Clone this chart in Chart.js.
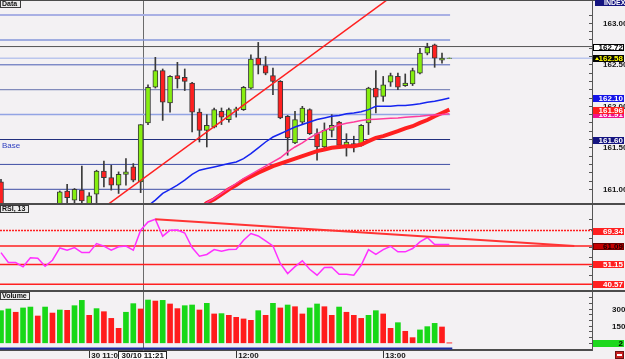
<!DOCTYPE html>
<html>
<head>
<meta charset="utf-8">
<script src="https://cdn.jsdelivr.net/npm/chart.js@4/dist/chart.umd.min.js"></script>
<style>
  html, body { margin: 0; padding: 0; background: #f3f1f3; }
  #wrap { position: relative; width: 625px; height: 359px; overflow: hidden; }
  #wrap canvas { position: absolute; left: 0; display: block; }
</style>
</head>
<body>
<div id="wrap">
  <canvas id="c-price" width="625" height="204" style="top:0"></canvas>
  <canvas id="c-rsi" width="625" height="87" style="top:204px"></canvas>
  <canvas id="c-vol" width="625" height="68" style="top:291px"></canvas>
</div>
<script>
/**
 * 3-minute bars, 30/10 — price / RSI(13) / volume panels
 */

// ---- data ----
const openPx = [161.09, 160.58, 160.66, 160.60, 160.70, 160.75, 160.64, 160.74, 160.76, 160.98,
  160.87, 160.99, 160.82, 160.94, 161.22, 161.14, 161.05, 161.18, 161.27, 161.09,
  161.80, 162.23, 162.43, 162.04, 162.37, 162.35, 162.28, 161.93, 161.71, 161.75,
  161.94, 161.84, 161.95, 161.96, 162.22, 162.58, 162.49, 162.37, 162.30, 161.88,
  161.56, 161.81, 161.96, 161.67, 161.51, 161.71, 161.81, 161.53, 161.55, 161.53,
  161.80, 162.22, 162.12, 162.29, 162.36, 162.25, 162.27, 162.40, 162.64, 162.74,
  162.555, 162.578];
const highPx = [161.12, 160.72, 160.74, 160.76, 160.78, 160.79, 160.78, 160.79, 160.98, 161.06,
  161.01, 161.28, 160.96, 161.23, 161.34, 161.29, 161.21, 161.37, 161.31, 161.78,
  162.26, 162.59, 162.45, 162.37, 162.53, 162.45, 162.29, 161.97, 161.90, 161.98,
  161.98, 161.98, 161.99, 162.24, 162.62, 162.77, 162.60, 162.46, 162.31, 161.89,
  161.94, 162.00, 161.97, 161.73, 161.80, 161.90, 161.82, 161.67, 161.64, 161.78,
  162.23, 162.43, 162.36, 162.40, 162.40, 162.39, 162.46, 162.70, 162.76, 162.75,
  162.64, 162.582];
const lowPx = [160.50, 160.50, 160.55, 160.56, 160.62, 160.60, 160.60, 160.66, 160.70, 160.83,
  160.82, 160.82, 160.78, 160.83, 161.03, 160.99, 160.95, 161.05, 161.09, 160.96,
  161.78, 162.22, 161.83, 161.93, 162.22, 162.19, 161.69, 161.57, 161.51, 161.74,
  161.78, 161.81, 161.87, 161.95, 162.21, 162.39, 162.38, 162.14, 161.85, 161.41,
  161.55, 161.78, 161.66, 161.35, 161.50, 161.63, 161.52, 161.40, 161.45, 161.52,
  161.66, 161.92, 162.06, 162.24, 162.20, 162.24, 162.25, 162.39, 162.62, 162.47,
  162.52, 162.578];
const closePx = [160.60, 160.66, 160.60, 160.70, 160.75, 160.64, 160.74, 160.70, 160.97, 160.90,
  161.00, 160.86, 160.92, 161.22, 161.14, 161.05, 161.18, 161.21, 161.11, 161.78,
  162.23, 162.43, 162.05, 162.36, 162.33, 162.30, 161.93, 161.71, 161.77, 161.96,
  161.87, 161.96, 161.97, 162.23, 162.57, 162.50, 162.40, 162.30, 161.86, 161.62,
  161.84, 161.98, 161.67, 161.51, 161.71, 161.77, 161.53, 161.57, 161.51, 161.77,
  162.22, 162.11, 162.26, 162.37, 162.23, 162.28, 162.43, 162.64, 162.71, 162.58,
  162.58, 162.582];

const maBlue = [null, null, null, null, null, null, null, null, null, null,
  null, null, null, null, null, null, null, null, 160.62, 160.70,
  160.80, 160.87, 160.95, 161.00, 161.05, 161.11, 161.18, 161.23, 161.25, 161.27,
  161.29, 161.31, 161.33, 161.37, 161.43, 161.50, 161.57, 161.63, 161.67, 161.71,
  161.75, 161.78, 161.81, 161.84, 161.86, 161.88, 161.89, 161.91, 161.92, 161.935,
  161.96, 162.00, 162.00, 162.00, 162.01, 162.01, 162.02, 162.03, 162.05, 162.06,
  162.08, 162.10];
const maRed = [null, null, null, null, null, null, null, null, null, null,
  null, null, null, null, null, null, null, null, null, null,
  null, null, null, null, null, null, 160.68, 160.76, 160.835, 160.88,
  160.94, 161.00, 161.05, 161.11, 161.155, 161.20, 161.24, 161.28, 161.31, 161.34,
  161.37, 161.40, 161.43, 161.46, 161.48, 161.50, 161.51, 161.52, 161.52, 161.54,
  161.58, 161.62, 161.64, 161.67, 161.70, 161.735, 161.76, 161.80, 161.835, 161.88,
  161.92, 161.96];
const maPink = [null, null, null, null, null, null, null, null, null, null,
  null, null, null, null, null, null, null, null, null, null,
  null, null, null, null, null, null, 160.69, 160.77, 160.84, 160.89,
  160.95, 161.01, 161.07, 161.13, 161.18, 161.23, 161.28, 161.33, 161.38, 161.45,
  161.51, 161.56, 161.62, 161.67, 161.71, 161.745, 161.775, 161.795, 161.81, 161.83,
  161.84, 161.845, 161.85, 161.855, 161.86, 161.867, 161.875, 161.88, 161.89, 161.895,
  161.90, 161.91];

const rsiValues = [57.5, 52.2, 52.2, 49.9, 54.7, 54.5, 50.2, 53.4, 60.0, 58.8,
  60.2, 57.5, 57.5, 62.3, 61.0, 58.8, 60.6, 61.0, 58.8, 69.5,
  73.9, 75.4, 66.3, 69.5, 69.6, 68.0, 60.2, 55.6, 56.5, 59.1,
  58.2, 59.1, 59.3, 64.1, 67.7, 66.4, 63.8, 61.1, 51.7, 46.3,
  50.0, 53.1, 48.6, 45.4, 49.5, 49.7, 45.9, 45.9, 45.4, 50.7,
  59.1, 56.5, 59.1, 60.9, 57.9, 57.9, 59.7, 63.2, 65.6, 61.8,
  61.8, 61.8];

const volumeValues = [288, 303, 274, 312, 320, 241, 320, 267, 294, 291,
  332, 379, 247, 306, 279, 220, 132, 274, 350, 303,
  382, 373, 379, 347, 306, 332, 338, 294, 353, 259,
  262, 247, 229, 215, 203, 288, 247, 353, 312, 338,
  323, 259, 312, 347, 323, 247, 320, 274, 247, 220,
  247, 288, 259, 132, 182, 106, 50, 118, 147, 176,
  144, 2];
const volumeUp = [1, 1, 0, 1, 1, 0, 1, 0, 1, 0,
  1, 1, 0, 1, 0, 0, 0, 1, 1, 0,
  1, 0, 1, 0, 0, 1, 1, 0, 1, 0,
  1, 0, 0, 0, 0, 1, 0, 1, 0, 1,
  0, 0, 1, 1, 0, 0, 1, 0, 0, 0,
  1, 1, 0, 0, 1, 0, 0, 1, 1, 1,
  0, 0];

const priceLevels = [163.10, 162.80, 162.50, 162.20, 161.90, 161.60, 161.30, 161.00];
const dayHigh = 162.72;
const lastPrice = 162.58;
const basePrice = 161.60;
const priceTrend = [[13, 160.717], [54, 163.378]];

const rsiLevels = [69.34, 61.09, 51.15, 40.57];
const rsiTrend = [[21, 75.4], [78, 61.1]];
const volumeFloor = -45;

const priceTickLabels = [161, 161.5, 162, 162.5, 163];
const rsiTickLabels = [80];
const volTickLabels = [150, 300];
const timeTickIdx = [12, 32, 52];
const timeTickLabels = ['30 11:00', '12:00', '13:00'];
const cursorIdx = 19.28;
const cursorLabel = '30/10 11:21';

// ---- layout / style ----
const X_MIN = -0.136, X_MAX = 80.408;
const LEVEL_END = 61.1;
const AXIS_W = 33;
const FONT = "'Liberation Sans Narrow', 'Liberation Sans', Arial, sans-serif";
const tickFont = { family: FONT, size: 8, weight: 'bold' };
const UP = '#86ee10', DOWN = '#ff2020', EDGE = '#3a3a3a';
const levelColors = ['#a9b0e4', '#8596da', '#4a5cb4', '#6472ac', '#92a4e4', '#22307e', '#3e4ea4', '#3e4ea4'];
const levelWidths = [2, 1.5, 1, 1, 1.5, 1, 1, 1];

const idx = openPx.map((_, i) => i);

function hline(y, x0, x1, color, width, extra) {
  return Object.assign({
    type: 'line', data: [{ x: x0, y }, { x: x1, y }],
    borderColor: color, borderWidth: width, pointRadius: 0, order: 6
  }, extra || {});
}

function series(values, color, width, order) {
  return {
    type: 'line', data: values.map((v, i) => ({ x: i, y: v })),
    borderColor: color, borderWidth: width, pointRadius: 0, tension: 0, order
  };
}

function yAxis(min, max, step, labels, pad, fmt) {
  return {
    type: 'linear', position: 'right', min, max,
    afterFit: s => { s.width = AXIS_W; s.paddingTop = 0; s.paddingBottom = 0; },
    grid: { drawOnChartArea: false, drawTicks: true, tickLength: -3, color: '#555' },
    border: { display: true, color: '#555', width: 1 },
    ticks: {
      stepSize: step, autoSkip: false, padding: pad, crossAlign: 'near',
      font: tickFont, color: '#151515',
      callback: v => labels.some(t => Math.abs(t - v) < 1e-6) ? fmt(v) : ''
    }
  };
}

const hiddenX = { type: 'linear', min: X_MIN, max: X_MAX, offset: false, display: false };

const baseOptions = {
  responsive: false,
  animation: false,
  events: [],
  layout: { padding: 0 },
  plugins: { legend: { display: false }, tooltip: { enabled: false } }
};

// frames, crosshair, title tag and the coloured value boxes on the right axis
function panelDecor(spec) {
  return {
    id: 'decor_' + spec.name,
    beforeDatasetsDraw(chart) {
      const ctx = chart.ctx;
      const x = Math.round(chart.scales.x.getPixelForValue(cursorIdx)) + 0.5;
      ctx.save();
      ctx.strokeStyle = '#6b6b6b';
      ctx.lineWidth = 1;
      ctx.beginPath(); ctx.moveTo(x, 0); ctx.lineTo(x, chart.height); ctx.stroke();
      ctx.restore();
    },
    afterDraw(chart) {
      const ctx = chart.ctx;
      const ys = chart.scales.y;
      const right = chart.chartArea.right;
      ctx.save();
      ctx.fillStyle = '#4c4c4c';
      if (spec.top) ctx.fillRect(0, 0, chart.width, 1);
      if (spec.bottom) ctx.fillRect(0, chart.height - 1, chart.width, 1);

      // panel title
      ctx.font = `bold 7px ${FONT}`;
      const tw = Math.ceil(ctx.measureText(spec.title).width) + 5;
      ctx.fillStyle = '#ececec';
      ctx.fillRect(0, spec.titleY, tw, 8);
      ctx.strokeStyle = '#3a3a3a';
      ctx.lineWidth = 1;
      ctx.strokeRect(0.5, spec.titleY + 0.5, tw - 1, 7);
      ctx.fillStyle = '#111';
      ctx.textAlign = 'left';
      ctx.textBaseline = 'middle';
      ctx.fillText(spec.title, 2, spec.titleY + 4.5);

      // value boxes
      ctx.font = `bold 8px ${FONT}`;
      ctx.textAlign = 'right';
      spec.boxes.forEach(b => {
        const y = Math.round(ys.getPixelForValue(b.value));
        ctx.fillStyle = b.bg;
        ctx.fillRect(right + 1, y - 3, AXIS_W - 2, 7);
        if (b.line) {
          ctx.strokeStyle = b.line;
          ctx.strokeRect(right + 1.5, y - 2.5, AXIS_W - 3, 6);
        }
        if (b.mark) {
          ctx.fillStyle = b.fg;
          ctx.beginPath();
          ctx.moveTo(right + 3, y + 2); ctx.lineTo(right + 5, y - 1); ctx.lineTo(right + 7, y + 2);
          ctx.fill();
        }
        ctx.fillStyle = b.fg;
        ctx.fillText(b.text, chart.width - 2, y + 0.5);
      });
      if (spec.extra) spec.extra(chart, ctx);
      ctx.restore();
    }
  };
}

// ---- price panel ----
const priceDatasets = [];
priceLevels.forEach((lv, k) => priceDatasets.push(hline(lv, X_MIN, LEVEL_END, levelColors[k], levelWidths[k])));
priceDatasets.push(hline(dayHigh, X_MIN, X_MAX, '#555555', 1));
priceDatasets.push(hline(lastPrice, X_MIN, X_MAX, '#9fb0ea', 1));
priceDatasets.push({
  type: 'bar', data: idx.map(i => ({ x: i, y: [lowPx[i], highPx[i]] })),
  backgroundColor: EDGE, barThickness: 1, maxBarThickness: 1, grouped: false, order: 5
});
priceDatasets.push({
  type: 'bar', data: idx.map(i => ({ x: i, y: [openPx[i], closePx[i]] })),
  backgroundColor: idx.map(i => closePx[i] >= openPx[i] ? UP : DOWN),
  borderColor: EDGE, borderWidth: 1, borderSkipped: false,
  barThickness: 5, maxBarThickness: 5, grouped: false, order: 4
});
priceDatasets.push(series(maRed, '#ff2020', 4, 3));
priceDatasets.push(series(maPink, '#ff3c9c', 1.5, 2));
priceDatasets.push(series(maBlue, '#1424f0', 1.5, 2));
priceDatasets.push({
  type: 'line', data: priceTrend.map(([x, y]) => ({ x, y })),
  borderColor: '#ff2020', borderWidth: 1.5, pointRadius: 0, order: 1
});

new Chart(document.getElementById('c-price'), {
  type: 'bar',
  data: { datasets: priceDatasets },
  options: Object.assign({}, baseOptions, {
    scales: {
      x: hiddenX,
      y: yAxis(160.823, 163.281, 0.1, priceTickLabels, 14, v => v.toFixed(2))
    }
  }),
  plugins: [panelDecor({
    name: 'price', title: 'Data', titleY: 0, top: true, bottom: true,
    boxes: [
      { value: dayHigh, text: dayHigh.toFixed(2), bg: '#ffffff', fg: '#000', line: '#000' },
      { value: lastPrice, text: lastPrice.toFixed(2), bg: '#050505', fg: '#ffff00', mark: true },
      { value: maBlue[61], text: maBlue[61].toFixed(2), bg: '#1515e8', fg: '#fff' },
      { value: maPink[61], text: maPink[61].toFixed(2), bg: '#f0148c', fg: '#fff' },
      { value: maRed[61], text: maRed[61].toFixed(2), bg: '#ff1e1e', fg: '#fff' },
      { value: basePrice, text: basePrice.toFixed(2), bg: '#141480', fg: '#fff' }
    ],
    extra(chart, ctx) {
      const y = chart.scales.y.getPixelForValue(basePrice);
      ctx.font = `8px ${FONT}`;
      ctx.textAlign = 'left';
      ctx.textBaseline = 'top';
      ctx.fillStyle = '#3040c0';
      ctx.fillText('Base', 2, y + 2);
      ctx.fillStyle = '#141480';
      ctx.fillRect(595, 0, 30, 6);
      ctx.font = `bold 7px ${FONT}`;
      ctx.fillStyle = '#fff';
      ctx.textBaseline = 'alphabetic';
      ctx.fillText('INDEX', 604, 5);
    }
  })]
});

// ---- RSI panel ----
const rsiDatasets = rsiLevels.map((lv, k) =>
  hline(lv, X_MIN, X_MAX, '#ff2020', 1.5, k === 0 ? { borderDash: [2, 1] } : {}));
rsiDatasets.push(series(rsiValues, '#ff30ff', 1.5, 2));
rsiDatasets.push({
  type: 'line', data: rsiTrend.map(([x, y]) => ({ x, y })),
  borderColor: '#ff3434', borderWidth: 2, pointRadius: 0, order: 1
});

new Chart(document.getElementById('c-rsi'), {
  type: 'line',
  data: { datasets: rsiDatasets },
  options: Object.assign({}, baseOptions, {
    scales: {
      x: hiddenX,
      y: yAxis(36.93, 83.54, 5, rsiTickLabels, 17, v => v.toFixed(2))
    }
  }),
  plugins: [panelDecor({
    name: 'rsi', title: 'RSI, 13', titleY: 1, top: true, bottom: true,
    boxes: rsiLevels.map((lv, k) => k === 1
      ? { value: lv, text: lv.toFixed(2), bg: '#c40000', fg: '#1a0000', line: '#700000' }
      : { value: lv, text: lv.toFixed(2), bg: '#ff2020', fg: '#fff' })
  })]
});

// ---- volume panel ----
new Chart(document.getElementById('c-vol'), {
  type: 'bar',
  data: {
    datasets: [
      {
        type: 'bar', data: idx.map(i => ({ x: i, y: volumeValues[i] })),
        backgroundColor: idx.map(i => volumeUp[i] ? '#18d818' : '#ff1c1c'),
        barThickness: 5, maxBarThickness: 5, grouped: false, order: 3
      },
      hline(volumeFloor, X_MIN, 61.4, '#1a2aa0', 2, { order: 1 })
    ]
  },
  options: Object.assign({}, baseOptions, {
    scales: {
      x: {
        type: 'linear', min: X_MIN, max: X_MAX, offset: false, position: 'bottom',
        afterBuildTicks: s => { s.ticks = timeTickIdx.map(v => ({ value: v })); },
        afterFit: s => { s.height = 9; s.paddingLeft = 0; s.paddingRight = 0; },
        grid: { offset: false, drawOnChartArea: false, drawTicks: true, tickLength: 8, color: '#333' },
        border: { display: true, color: '#4c4c4c', width: 2 },
        ticks: {
          autoSkip: false, maxRotation: 0, align: 'start', padding: -7, labelOffset: 2,
          font: tickFont, color: '#151515',
          callback: v => timeTickLabels[timeTickIdx.indexOf(v)]
        }
      },
      y: yAxis(-59.1, 461.6, 50, volTickLabels, 23, v => String(Math.round(v)))
    }
  }),
  plugins: [panelDecor({
    name: 'vol', title: 'Volume', titleY: 1, top: true, bottom: false,
    boxes: [{ value: volumeValues[61], text: String(volumeValues[61]), bg: '#1ed81e', fg: '#000' }],
    extra(chart, ctx) {
      const x = chart.scales.x.getPixelForValue(cursorIdx);
      const top = chart.chartArea.bottom + 1;
      ctx.font = `bold 8px ${FONT}`;
      const w = Math.ceil(ctx.measureText(cursorLabel).width) + 6;
      ctx.fillStyle = '#fbfbfb';
      ctx.fillRect(Math.round(x - w / 2), top, w, 9);
      ctx.strokeStyle = '#222';
      ctx.strokeRect(Math.round(x - w / 2) + 0.5, top + 0.5, w - 1, 8);
      ctx.fillStyle = '#111';
      ctx.textAlign = 'center';
      ctx.textBaseline = 'middle';
      ctx.fillText(cursorLabel, x, top + 5);
      // small close icon in the corner
      ctx.fillStyle = '#c82020';
      ctx.fillRect(615, top, 9, 8);
      ctx.strokeStyle = '#701010';
      ctx.strokeRect(615.5, top + 0.5, 8, 7);
      ctx.fillStyle = '#fff';
      ctx.fillRect(617, top + 3, 5, 2);
    }
  })]
});
</script>
</body>
</html>
